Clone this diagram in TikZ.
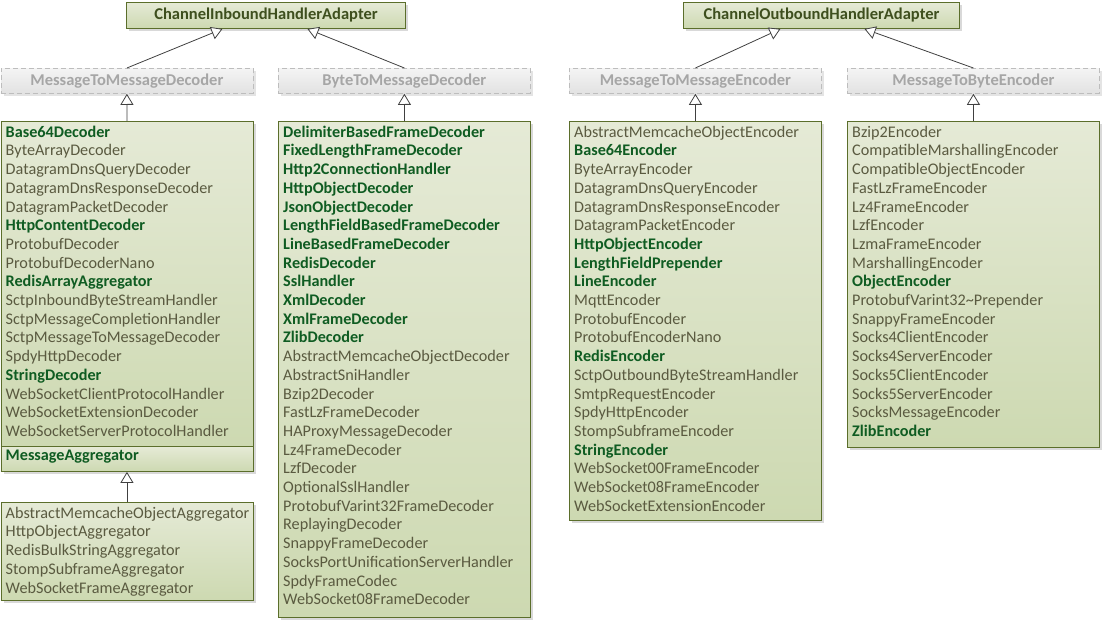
\documentclass[tikz,border=0pt]{standalone}
\usepackage{fontspec}
\setmainfont{Carlito}
\usetikzlibrary{arrows.meta,shadows}
\definecolor{boxborder}{HTML}{5B6E2B}
\definecolor{boxtop}{HTML}{E5EAD6}
\definecolor{boxbot}{HTML}{CDD9B1}
\definecolor{boldgreen}{HTML}{0F5C22}
\definecolor{plaintext}{HTML}{5A5A40}
\definecolor{titletext}{HTML}{3E4F1E}
\definecolor{grayborder}{HTML}{BDBDBD}
\definecolor{graytop}{HTML}{F4F4F4}
\definecolor{graybot}{HTML}{E2E2E2}
\definecolor{graytext}{HTML}{A6A6A6}
\definecolor{shadowgray}{HTML}{D9D9D9}
\definecolor{linecol}{HTML}{404040}
\newcommand{\bgn}[1]{\textbf{\color{boldgreen}#1}}
\tikzset{
  box/.style={draw=boxborder, line width=0.9pt, top color=boxtop, bottom color=boxbot,
    anchor=north west, inner sep=0pt,
    drop shadow={shadow xshift=3pt, shadow yshift=-3pt, fill=shadowgray, opacity=1}},
  titlebox/.style={box, font=\fontsize{16.5}{18.7}\selectfont\bfseries, text=titletext},
  graybox/.style={draw=grayborder, dash pattern=on 5pt off 3pt, line width=0.8pt,
    top color=graytop, bottom color=graybot, anchor=north west, inner sep=0pt,
    minimum width=252pt, minimum height=25pt,
    font=\fontsize{16.5}{18.7}\selectfont\bfseries, text=graytext,
    drop shadow={shadow xshift=3pt, shadow yshift=-3pt, fill=shadowgray!70, opacity=1}},
  listtext/.style={anchor=north west, inner sep=0pt, align=left,
    font=\fontsize{16.2}{18.7}\selectfont, text=plaintext},
  inh/.style={draw=linecol, line width=0.8pt,
    -{Triangle[open, width=13pt, length=11pt, fill=white]}},
}
\begin{document}
\begin{tikzpicture}[x=1pt, y=-1pt]
\useasboundingbox (0,0) rectangle (1103,621);

% ---------- inbound side ----------
\node[titlebox, minimum width=279pt, minimum height=26pt] (cih) at (126,2) {ChannelInboundHandlerAdapter};
\node[graybox] (mtmd) at (0.5,68) {MessageToMessageDecoder};
\node[graybox] (btmd) at (278,68) {ByteToMessageDecoder};

\node[box, minimum width=252pt, minimum height=325pt] (dec) at (0.5,121) {};
\node[box, minimum width=252pt, minimum height=25pt] (agg) at (0.5,446) {};
\node[box, minimum width=252pt, minimum height=98pt] (aggl) at (0.5,502) {};
\node[box, minimum width=252pt, minimum height=496pt] (btm) at (278,121) {};

\node[listtext] (dect) at ([xshift=5pt,yshift=-3pt]dec.north west) {\rule{0pt}{13pt}\bgn{Base64Decoder}\\
ByteArrayDecoder\\
DatagramDnsQueryDecoder\\
DatagramDnsResponseDecoder\\
DatagramPacketDecoder\\
\bgn{HttpContentDecoder}\\
ProtobufDecoder\\
ProtobufDecoderNano\\
\bgn{RedisArrayAggregator}\\
SctpInboundByteStreamHandler\\
SctpMessageCompletionHandler\\
SctpMessageToMessageDecoder\\
SpdyHttpDecoder\\
\bgn{StringDecoder}\\
WebSocketClientProtocolHandler\\
WebSocketExtensionDecoder\\
WebSocketServerProtocolHandler};

\node[listtext] (aggt) at ([xshift=5pt,yshift=-1pt]agg.north west) {\rule{0pt}{13pt}\bgn{MessageAggregator}};

\node[listtext] (agglt) at ([xshift=5pt,yshift=-3pt]aggl.north west) {\rule{0pt}{13pt}AbstractMemcacheObjectAggregator\\
HttpObjectAggregator\\
RedisBulkStringAggregator\\
StompSubframeAggregator\\
WebSocketFrameAggregator};

\node[listtext] (btmt) at ([xshift=5pt,yshift=-3pt]btm.north west) {\rule{0pt}{13pt}\bgn{DelimiterBasedFrameDecoder}\\
\bgn{FixedLengthFrameDecoder}\\
\bgn{Http2ConnectionHandler}\\
\bgn{HttpObjectDecoder}\\
\bgn{JsonObjectDecoder}\\
\bgn{LengthFieldBasedFrameDecoder}\\
\bgn{LineBasedFrameDecoder}\\
\bgn{RedisDecoder}\\
\bgn{SslHandler}\\
\bgn{XmlDecoder}\\
\bgn{XmlFrameDecoder}\\
\bgn{ZlibDecoder}\\
AbstractMemcacheObjectDecoder\\
AbstractSniHandler\\
Bzip2Decoder\\
FastLzFrameDecoder\\
HAProxyMessageDecoder\\
Lz4FrameDecoder\\
LzfDecoder\\
OptionalSslHandler\\
ProtobufVarint32FrameDecoder\\
ReplayingDecoder\\
SnappyFrameDecoder\\
SocksPortUnificationServerHandler\\
SpdyFrameCodec\\
WebSocket08FrameDecoder};

\draw[inh] (mtmd.north) -- ([xshift=-43.5pt]cih.south);
\draw[inh] (btmd.north) -- ([xshift=41.5pt]cih.south);
\draw[inh] (dec.north) -- (mtmd.south);
\draw[inh] (btm.north) -- (btmd.south);
\draw[inh] (aggl.north) -- (agg.south);

% ---------- outbound side ----------
\node[titlebox, minimum width=276pt, minimum height=26pt] (coh) at (683,2) {ChannelOutboundHandlerAdapter};
\node[graybox] (mtme) at (569,68) {MessageToMessageEncoder};
\node[graybox] (mtbe) at (847,68) {MessageToByteEncoder};

\node[box, minimum width=252pt, minimum height=399pt] (enc) at (569,121) {};
\node[box, minimum width=252pt, minimum height=326pt] (benc) at (847,121) {};

\node[listtext] (enct) at ([xshift=5pt,yshift=-3pt]enc.north west) {\rule{0pt}{13pt}AbstractMemcacheObjectEncoder\\
\bgn{Base64Encoder}\\
ByteArrayEncoder\\
DatagramDnsQueryEncoder\\
DatagramDnsResponseEncoder\\
DatagramPacketEncoder\\
\bgn{HttpObjectEncoder}\\
\bgn{LengthFieldPrepender}\\
\bgn{LineEncoder}\\
MqttEncoder\\
ProtobufEncoder\\
ProtobufEncoderNano\\
\bgn{RedisEncoder}\\
SctpOutboundByteStreamHandler\\
SmtpRequestEncoder\\
SpdyHttpEncoder\\
StompSubframeEncoder\\
\bgn{StringEncoder}\\
WebSocket00FrameEncoder\\
WebSocket08FrameEncoder\\
WebSocketExtensionEncoder};

\node[listtext] (benct) at ([xshift=5pt,yshift=-3pt]benc.north west) {\rule{0pt}{13pt}Bzip2Encoder\\
CompatibleMarshallingEncoder\\
CompatibleObjectEncoder\\
FastLzFrameEncoder\\
Lz4FrameEncoder\\
LzfEncoder\\
LzmaFrameEncoder\\
MarshallingEncoder\\
\bgn{ObjectEncoder}\\
ProtobufVarint32\textasciitilde Prepender\\
SnappyFrameEncoder\\
Socks4ClientEncoder\\
Socks4ServerEncoder\\
Socks5ClientEncoder\\
Socks5ServerEncoder\\
SocksMessageEncoder\\
\bgn{ZlibEncoder}};

\draw[inh] (mtme.north) -- ([xshift=-41pt]coh.south);
\draw[inh] (mtbe.north) -- ([xshift=43pt]coh.south);
\draw[inh] (enc.north) -- (mtme.south);
\draw[inh] (benc.north) -- (mtbe.south);
\end{tikzpicture}
\end{document}
